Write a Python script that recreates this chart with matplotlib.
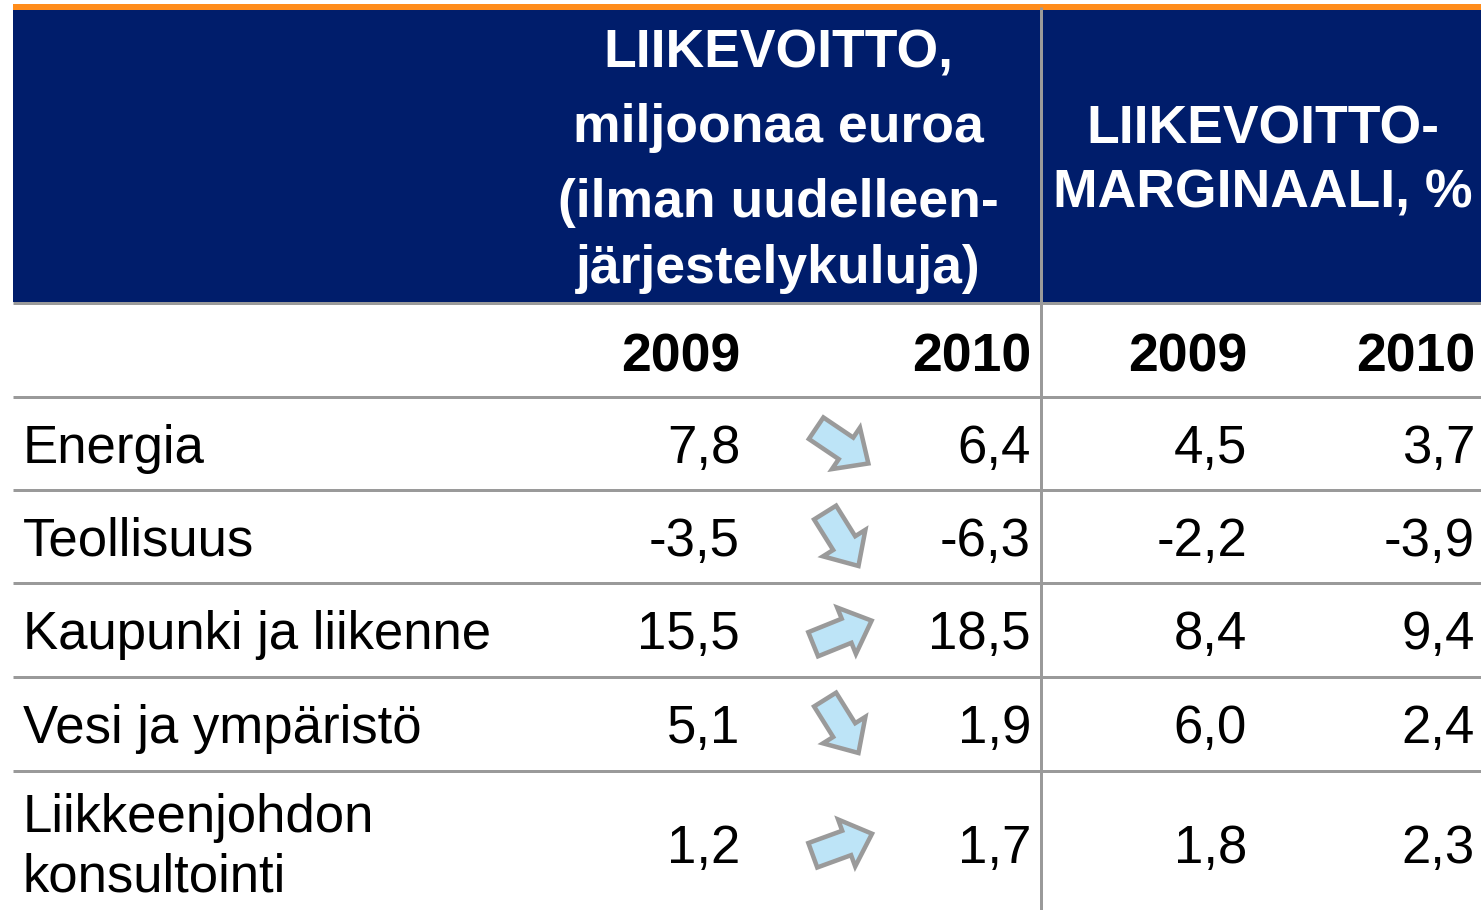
import numpy as np
import matplotlib.pyplot as plt
from matplotlib.patches import Rectangle, Polygon

# table content
segments = ["Energia", "Teollisuus", "Kaupunki ja liikenne", "Vesi ja ympäristö",
            "Liikkeenjohdon\nkonsultointi"]
ebit_2009 = ["7,8", "-3,5", "15,5", "5,1", "1,2"]
ebit_2010 = ["6,4", "-6,3", "18,5", "1,9", "1,7"]
margin_2009 = ["4,5", "-2,2", "8,4", "6,0", "1,8"]
margin_2010 = ["3,7", "-3,9", "9,4", "2,4", "2,3"]
arrow_angles = [-34, -58, 22, -58, 20]   # degrees
years = ["2009", "2010", "2009", "2010"]
header_left = ["LIIKEVOITTO,", "miljoonaa euroa", "(ilman uudelleen-", "järjestelykuluja)"]
header_right = ["LIIKEVOITTO-", "MARGINAALI, %"]

NAVY = "#001d6b"
ORANGE = "#ff8c1a"
GREY = "#9a9a9a"
ARROW_FILL = "#bde4f7"
FONT = "Liberation Sans"
BODY = 38
HEAD = 38.5

W, H = 1481, 910
fig = plt.figure(figsize=(W / 100, H / 100), dpi=100)
ax = fig.add_axes([0, 0, 1, 1])
ax.set_xlim(0, W)
ax.set_ylim(H, 0)
ax.axis("off")

px = 0.72  # points per pixel at dpi 100

# header block
ax.add_patch(Rectangle((13, 10), W - 13, 292, facecolor=NAVY, edgecolor="none"))
ax.add_patch(Rectangle((13, 4), W - 13, 6, facecolor=ORANGE, edgecolor="none"))

for txt, base in zip(header_left, [67, 142, 217, 283]):
    ax.text(778, base, txt, ha="center", va="baseline", color="white",
            fontsize=HEAD, fontweight="bold", family=FONT)
for txt, base in zip(header_right, [143, 207]):
    ax.text(1263, base, txt, ha="center", va="baseline", color="white",
            fontsize=HEAD, fontweight="bold", family=FONT)

# grid lines
for y in [303, 397, 490, 583, 677, 771]:
    ax.plot([13, W], [y, y], color=GREY, lw=3 * px, solid_capstyle="butt")
ax.plot([1041, 1041], [7, H], color=GREY, lw=3 * px, solid_capstyle="butt")

# year row
col_right = [740, 1031, 1247, 1475]
for x, yr in zip(col_right, years):
    ax.text(x, 371, yr, ha="right", va="baseline", fontsize=HEAD,
            fontweight="bold", family=FONT)

# body rows
baselines = [463, 556, 649, 743, 863]
arrow_y = [445, 538, 633, 725, 845]


def block_arrow(cx, cy, angle):
    # right-pointing arrow, rotated; y axis points down
    pts = np.array([[-30, -13], [6, -13], [6, -25], [33, 0],
                    [6, 25], [6, 13], [-30, 13]], dtype=float)
    a = np.deg2rad(angle)
    rot = np.array([[np.cos(a), -np.sin(a)], [np.sin(a), np.cos(a)]])
    pts = pts @ rot.T
    pts[:, 1] = -pts[:, 1]
    return Polygon(pts + [cx, cy], closed=True, facecolor=ARROW_FILL,
                   edgecolor=GREY, lw=4.5 * px, joinstyle="miter")


for i, name in enumerate(segments):
    b = baselines[i]
    if "\n" in name:
        l1, l2 = name.split("\n")
        ax.text(23, 832, l1, ha="left", va="baseline", fontsize=BODY, family=FONT)
        ax.text(23, 892, l2, ha="left", va="baseline", fontsize=BODY, family=FONT)
    else:
        ax.text(23, b, name, ha="left", va="baseline", fontsize=BODY, family=FONT)
    for x, val in zip(col_right, [ebit_2009[i], ebit_2010[i], margin_2009[i], margin_2010[i]]):
        ax.text(x, b, val, ha="right", va="baseline", fontsize=BODY, family=FONT)
    ax.add_patch(block_arrow(841, arrow_y[i], arrow_angles[i]))

fig.savefig("out.png", dpi=100)
